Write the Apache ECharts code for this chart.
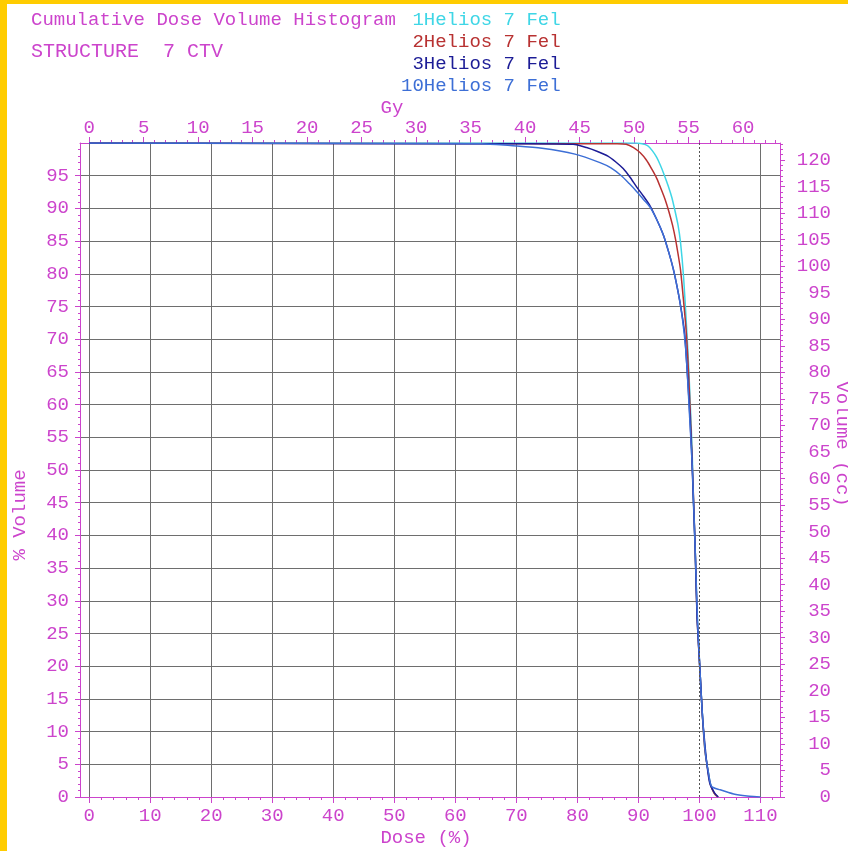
<!DOCTYPE html>
<html><head><meta charset="utf-8">
<script src="https://cdn.jsdelivr.net/npm/echarts@6/dist/echarts.min.js"></script>
<style>html,body{margin:0;padding:0;background:#fff;}#c{width:848px;height:851px;}</style>
</head><body><div id="c"></div>
<script>
// ---------------- data ----------------
const titleText = 'Cumulative Dose Volume Histogram';
const structureText = 'STRUCTURE  7 CTV';
const planIds = ['1', '2', '3', '10'];
const planName = 'Helios 7 Fel';
const prescriptionGy = 56;      // Gy at 100 % dose
const totalVolumeCc = 123.2;    // cc at 100 % volume
const prescriptionPct = 100;

const doseTicksPct = [0, 10, 20, 30, 40, 50, 60, 70, 80, 90, 100, 110];
const doseTicksGy = [0, 5, 10, 15, 20, 25, 30, 35, 40, 45, 50, 55, 60];
const volTicksPct = [0, 5, 10, 15, 20, 25, 30, 35, 40, 45, 50, 55, 60, 65, 70, 75, 80, 85, 90, 95];
const volTicksCc = [0, 5, 10, 15, 20, 25, 30, 35, 40, 45, 50, 55, 60, 65, 70, 75, 80, 85, 90, 95, 100, 105, 110, 115, 120];

const dose1 = [0, 89.5, 90.6, 91.5, 92.3, 93.0, 93.6, 94.2, 94.9, 95.5, 96.0, 96.5, 96.9, 97.4, 97.9, 98.2, 98.5, 98.8, 99.0, 99.3, 99.6, 99.9, 100.2, 100.5, 100.9, 101.4, 101.8, 102.4, 103.0];
const vol1  = [100, 100, 99.9, 99.6, 98.8, 97.8, 96.6, 95.2, 93.4, 91.6, 89.6, 87.4, 84.8, 79.5, 71.7, 66.5, 60.0, 53.0, 46.0, 38.0, 28.5, 22.5, 17.4, 12.3, 7.2, 4.1, 2.0, 0.6, 0];

const dose2 = [0, 82.0, 86.5, 88.0, 89.2, 90.3, 91.3, 92.2, 93.0, 93.7, 94.4, 95.0, 95.6, 96.1, 96.5, 96.9, 97.3, 97.8, 98.1, 98.4, 98.7, 99.0, 99.3, 99.6, 99.9, 100.2, 100.5, 100.9, 101.4, 101.8, 102.4, 103.0];
const vol2  = [100, 99.9, 99.9, 99.8, 99.3, 98.5, 97.4, 96.0, 94.6, 93.0, 91.3, 89.5, 87.4, 85.2, 83.0, 80.6, 76.8, 71.6, 67.0, 61.0, 54.0, 46.5, 38.0, 28.0, 22.3, 17.3, 12.2, 7.1, 4.0, 1.9, 0.6, 0];

const dose3 = [0, 64.3, 72.0, 79.3, 81.5, 83.3, 85.0, 86.3, 87.5, 88.6, 89.7, 90.8, 91.9, 93.0, 94.1, 95.0, 95.7, 96.3, 96.8, 97.3, 97.6, 97.9, 98.3, 98.7, 99.0, 99.3, 99.6, 99.9, 100.2, 100.5, 100.7, 101.2, 101.7, 102.5, 103.1];
const vol3  = [100, 99.9, 99.9, 99.8, 99.3, 98.7, 98.0, 97.1, 96.1, 94.8, 93.3, 91.9, 90.4, 88.3, 85.9, 83.2, 80.8, 78.2, 75.7, 72.8, 70.6, 66.5, 60.5, 53.2, 45.5, 37.9, 27.7, 22.5, 17.4, 12.3, 10.0, 5.2, 2.1, 0.6, 0];

const dose10 = [0, 64.3, 69.0, 74.2, 79.6, 83.7, 85.5, 87.2, 88.5, 89.7, 90.9, 91.9, 93.0, 94.1, 95.0, 95.7, 96.3, 96.8, 97.3, 97.7, 98.0, 98.4, 98.8, 99.1, 99.4, 99.7, 100.0, 100.3, 100.6, 101.0, 101.5, 102.0, 103.4, 105.6, 107.8, 109.4, 110.0];
const vol10  = [100, 99.9, 99.6, 99.2, 98.3, 97.0, 96.2, 95.0, 93.8, 92.6, 91.3, 90.2, 88.3, 85.9, 83.2, 80.8, 78.2, 75.7, 72.5, 69.0, 65.0, 58.0, 51.0, 43.5, 35.0, 26.5, 21.0, 15.5, 11.0, 6.5, 3.6, 1.6, 1.1, 0.46, 0.15, 0.05, 0];

// ---------------- style ----------------
const FONT = "'Liberation Mono', 'DejaVu Sans Mono', monospace";
const MAG = '#cc44cc';
const GRID = '#6e6e6e';
const planColors = ['#3fd6e6', '#b83232', '#1c1c96', '#3d6fd6'];
const doses = [dose1, dose2, dose3, dose10];
const vols = [vol1, vol2, vol3, vol10];

const xMinPct = -1.5, xMaxPct = 113.2;
const gyPerPct = prescriptionGy / 100;

function range(a, b, step, skip) {
  const out = [];
  for (let v = a; v <= b + 1e-9; v += step) { if (!skip || Math.round(v) % skip !== 0) out.push(v); }
  return out;
}
const minorDose = range(2, 112, 2, 10);
const minorGy = range(1, 63, 1, 5);
const minorVol = range(1, 99, 1, 5);
const minorCc = range(1, 123, 1, 5);

const labelStyle = { color: MAG, fontFamily: FONT, fontSize: 19 };
function minorAxis(base, vals, len) {
  return Object.assign({}, base, {
    axisLine: { show: false, onZero: false },
    axisTick: { show: true, customValues: vals, length: len, lineStyle: { color: MAG } },
    axisLabel: { show: false },
    splitLine: { show: false }
  });
}

const xBottom = { type: 'value', position: 'bottom', min: xMinPct, max: xMaxPct, gridIndex: 0 };
const xTop = { type: 'value', position: 'top', min: xMinPct * gyPerPct, max: xMaxPct * gyPerPct, gridIndex: 0 };
const yLeft = { type: 'value', position: 'left', min: 0, max: 100, gridIndex: 0 };
const yRight = { type: 'value', position: 'right', min: 0, max: totalVolumeCc, gridIndex: 0 };

const legendName = id => (id.length < 2 ? ' ' : '') + id + planName;

const option = {
  backgroundColor: '#ffffff',
  animation: false,
  title: [
    { text: titleText, left: 31, top: 10, padding: 0,
      textStyle: { color: MAG, fontFamily: FONT, fontSize: 19, fontWeight: 'normal' } },
    { text: structureText, left: 31, top: 42, padding: 0,
      textStyle: { color: MAG, fontFamily: FONT, fontSize: 20, fontWeight: 'normal' } }
  ],
  legend: {
    orient: 'vertical', left: 395, top: 9, padding: 0, itemGap: 0,
    itemWidth: 0, itemHeight: 0, selectedMode: false,
    textStyle: { fontFamily: FONT, fontSize: 19, lineHeight: 22 },
    data: planIds.map((id, i) => ({ name: legendName(id), textStyle: { color: planColors[i] } }))
  },
  grid: { left: 80, right: 68, top: 143, bottom: 54, containLabel: false },
  xAxis: [
    Object.assign({}, xBottom, {
      axisLine: { show: true, onZero: false, lineStyle: { color: MAG } },
      axisTick: { show: true, customValues: doseTicksPct, length: 6, lineStyle: { color: MAG } },
      axisLabel: Object.assign({ customValues: doseTicksPct, margin: 9 }, labelStyle),
      splitLine: { show: true, lineStyle: { width: 1, color: doseTicksPct.map(v => v === prescriptionPct ? 'rgba(0,0,0,0)' : GRID) } }
    }),
    minorAxis(xBottom, minorDose, 3),
    Object.assign({}, xTop, {
      axisLine: { show: true, onZero: false, lineStyle: { color: MAG } },
      axisTick: { show: true, customValues: doseTicksGy, length: 6, lineStyle: { color: MAG } },
      axisLabel: Object.assign({ customValues: doseTicksGy, margin: 6 }, labelStyle),
      splitLine: { show: false }
    }),
    minorAxis(xTop, minorGy, 3)
  ],
  yAxis: [
    Object.assign({}, yLeft, {
      axisLine: { show: true, onZero: false, lineStyle: { color: MAG } },
      axisTick: { show: true, customValues: volTicksPct, length: 5, lineStyle: { color: MAG } },
      axisLabel: Object.assign({ customValues: volTicksPct, margin: 11 }, labelStyle),
      splitLine: { show: true, lineStyle: { width: 1, color: volTicksPct.map(v => v === 0 ? 'rgba(0,0,0,0)' : GRID) } }
    }),
    minorAxis(yLeft, minorVol, 2),
    Object.assign({}, yRight, {
      axisLine: { show: true, onZero: false, lineStyle: { color: MAG } },
      axisTick: { show: true, customValues: volTicksCc, length: 5, lineStyle: { color: MAG } },
      axisLabel: Object.assign({ customValues: volTicksCc, margin: 51, align: 'right' }, labelStyle),
      splitLine: { show: false }
    }),
    minorAxis(yRight, minorCc, 3)
  ],
  graphic: [
    { type: 'rect', z: 100, shape: { x: 0, y: 0, width: 7, height: 851 }, style: { fill: '#ffcc00' } },
    { type: 'rect', z: 100, shape: { x: 0, y: 0, width: 848, height: 4 }, style: { fill: '#ffcc00' } },
    { type: 'text', x: 392, y: 108, style: { text: 'Gy', font: '19px ' + FONT, fill: MAG, align: 'center', verticalAlign: 'middle' } },
    { type: 'text', x: 426, y: 838, style: { text: 'Dose (%)', font: '19px ' + FONT, fill: MAG, align: 'center', verticalAlign: 'middle' } },
    { type: 'text', x: 20, y: 515, rotation: Math.PI / 2, style: { text: '% Volume', font: '19px ' + FONT, fill: MAG, align: 'center', verticalAlign: 'middle' } },
    { type: 'text', x: 842, y: 444, rotation: -Math.PI / 2, style: { text: 'Volume (cc)', font: '19px ' + FONT, fill: MAG, align: 'center', verticalAlign: 'middle' } }
  ],
  series: planIds.map((id, i) => ({
    name: legendName(id),
    type: 'line',
    xAxisIndex: 0, yAxisIndex: 0,
    showSymbol: false, symbol: 'none',
    smooth: 0.25,
    lineStyle: { color: planColors[i], width: 1.5 },
    itemStyle: { color: planColors[i] },
    data: doses[i].map((d, k) => [d, vols[i][k]]),
    markLine: i === 0 ? {
      silent: true, symbol: 'none', label: { show: false },
      lineStyle: { color: '#555555', type: [2, 2], width: 1 },
      data: [{ xAxis: prescriptionPct }]
    } : undefined
  }))
};

echarts.init(document.getElementById('c')).setOption(option);
</script></body></html>
